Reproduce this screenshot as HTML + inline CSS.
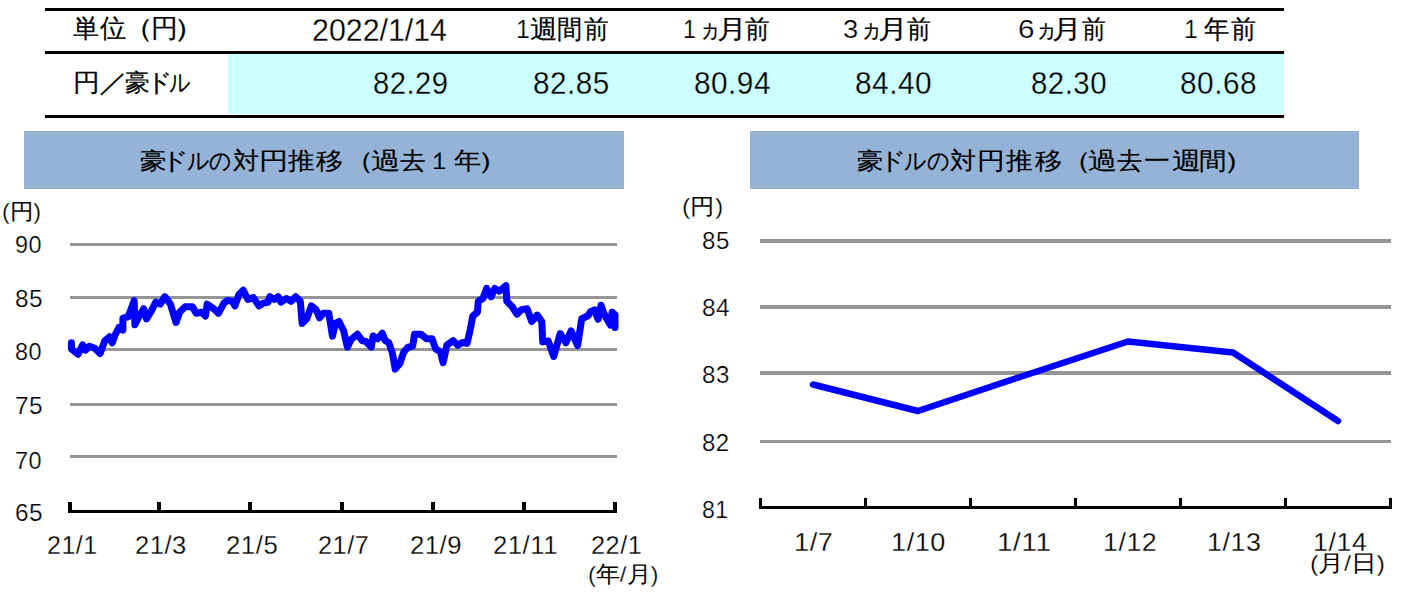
<!DOCTYPE html>
<html><head><meta charset="utf-8">
<style>
html,body{margin:0;padding:0;background:#fff;}
body{width:1404px;height:598px;position:relative;overflow:hidden;font-family:"Liberation Sans",sans-serif;color:#000;}
.r{position:absolute;}
.t{position:absolute;white-space:nowrap;line-height:1;transform-origin:0 0;}
.tr{text-align:right;}
.cj{-webkit-text-stroke:0.2px #000;}
.th{-webkit-text-stroke:0.25px #fff;}
.cj .a{-webkit-text-stroke:0.25px #fff;}
.un.cj{-webkit-text-stroke:0;}
.thv{-webkit-text-stroke:0.25px #CCFFFF;}
.tb{font-size:28px;}
.ax{font-size:24px;}
.ti{font-size:27px;}
.un{font-size:21px;}
</style></head><body>
<!-- table -->
<div class="r" style="left:228px;top:54px;width:1056px;height:60px;background:#CCFFFF"></div>
<div class="r" style="left:45px;top:8px;width:1239px;height:3px;background:#000"></div>
<div class="r" style="left:45px;top:51px;width:1239px;height:3px;background:#000"></div>
<div class="r" style="left:45px;top:115px;width:1239px;height:3px;background:#000"></div>



<!-- title boxes -->
<div class="r" style="left:24px;top:131px;width:600px;height:58px;background:#95B3D7"></div>
<div class="r" style="left:750px;top:131px;width:609px;height:58px;background:#95B3D7"></div>

<svg class="r" style="left:0;top:0" width="1404" height="598" viewBox="0 0 1404 598">
<g fill="#969696">
<rect x="70" y="243" width="547" height="3"/>
<rect x="70" y="296" width="547" height="3"/>
<rect x="70" y="348" width="547" height="3"/>
<rect x="70" y="403" width="547" height="3"/>
<rect x="70" y="455" width="547" height="3"/>
<rect x="760" y="239" width="631" height="4"/>
<rect x="760" y="305" width="631" height="4"/>
<rect x="760" y="371" width="631" height="4"/>
<rect x="760" y="440" width="631" height="3"/>
</g>
<g fill="#000">
<rect x="68" y="510" width="549" height="3"/>
<rect x="68" y="502" width="4" height="10"/>
<rect x="157" y="502" width="4" height="10"/>
<rect x="248" y="502" width="4" height="10"/>
<rect x="340" y="502" width="4" height="10"/>
<rect x="431" y="502" width="4" height="10"/>
<rect x="522" y="502" width="4" height="10"/>
<rect x="613" y="502" width="4" height="10"/>
<rect x="759" y="506" width="633" height="3"/>
<rect x="759" y="498" width="3" height="10"/>
<rect x="864" y="498" width="3" height="10"/>
<rect x="969" y="498" width="3" height="10"/>
<rect x="1074" y="498" width="3" height="10"/>
<rect x="1179" y="498" width="3" height="10"/>
<rect x="1284" y="498" width="3" height="10"/>
<rect x="1389" y="498" width="3" height="10"/>
</g>
<polyline points="71.4,342.8 71.4,348.9 78.1,354.2 82.7,344.8 85.4,350.2 89.4,346.2 94.8,348.2 100.1,353.5 104.8,340.8 109.5,336.8 112.2,342.8 114.8,335.5 118.9,327.5 122.9,330.1 122.9,318.1 128.2,316.8 134.2,300.7 134.9,324.8 138.9,316.8 143.7,308.7 146.5,318.8 151.1,311.4 155.7,302.2 160.3,304.1 164.9,296.7 170.4,304.1 176.0,322.5 179.6,312.3 185.2,306.8 192.5,306.8 196.2,313.3 201.7,312.3 205.4,316.0 207.2,304.1 211.0,306.8 214.7,309.6 218.4,313.3 223.9,303.1 227.6,300.4 232.2,301.3 235.0,305.9 238.7,294.8 243.3,290.2 247.9,299.4 253.4,297.6 258.9,305.9 263.5,303.1 268.1,302.2 269.9,296.7 274.5,299.4 278.2,296.7 281.0,302.2 286.5,298.5 291.1,301.3 295.7,296.7 300.3,301.3 302.2,323.4 306.8,318.8 311.4,305.9 316.0,309.6 319.6,317.9 323.3,313.3 328.8,313.3 332.5,336.3 335.3,323.4 339.0,321.5 343.6,330.7 347.4,347.1 351.0,339.7 357.5,334.2 362.1,340.6 365.8,341.5 371.3,347.1 373.1,336.0 377.7,338.8 382.3,333.3 385.1,340.6 388.8,342.5 392.5,353.5 395.2,369.1 399.8,363.6 403.5,352.6 408.1,347.1 412.7,346.1 414.5,334.2 421.0,334.2 426.5,338.8 432.0,338.8 435.7,348.9 440.3,351.7 443.1,362.7 446.8,345.2 453.2,340.6 457.8,345.2 462.4,342.5 467.0,343.4 470.0,330.7 472.8,316.0 477.4,312.3 478.3,301.3 482.9,298.5 486.6,288.4 491.2,296.7 494.8,288.4 499.4,291.2 505.9,285.6 506.8,301.3 512.3,306.8 516.9,314.2 521.5,309.6 527.1,308.7 531.7,321.5 537.2,315.1 541.8,321.5 542.7,341.8 548.2,340.9 553.7,356.5 560.2,333.5 565.9,342.7 571.1,331.0 577.6,345.6 581.7,318.7 588.1,315.8 590.4,311.7 594.5,309.9 598.1,319.3 601.0,305.2 603.3,312.2 606.3,318.1 610.4,325.1 612.1,312.2 615.0,314.6 615.0,327.5" fill="none" stroke="#0000FF" stroke-width="7" stroke-linejoin="round" stroke-linecap="round"/>
<polyline points="813.0,384.5 918.0,411.0 1023.0,376.0 1128.0,341.5 1233.0,352.5 1338.0,421.0" fill="none" stroke="#0000FF" stroke-width="6.5" stroke-linejoin="round" stroke-linecap="round"/>
</svg>

<!-- left chart labels -->

<!-- right chart labels -->
<div class="t cj" id="h0_0" style="left:73.08px;top:16.27px;font-size:28px;transform:scale(0.9231,0.9185);">単</div>
<div class="t cj" id="h0_1" style="left:99.61px;top:16.27px;font-size:28px;transform:scale(0.9259,0.9185);">位</div>
<div class="t cj" id="h0_2" style="left:122.05px;top:16.27px;font-size:28px;transform:scale(1.1167,0.9185);">（</div>
<div class="t cj" id="h0_3" style="left:150.74px;top:16.27px;font-size:28px;transform:scale(0.9500,0.9185);">円</div>
<div class="t cj" id="h0_4" style="left:173.32px;top:16.27px;font-size:28px;transform:scale(1.2000,0.9185);">）</div>
<div class="t th" id="h1" style="left:311.78px;top:14.93px;font-size:30px;transform:scale(1.0115,1.0227);">2022/1/14</div>
<div class="t th" id="h2_0" style="left:515.71px;top:17.00px;font-size:28px;transform:scale(0.8909,0.9185);">1</div>
<div class="t cj" id="h2_1" style="left:530.44px;top:17.00px;font-size:28px;transform:scale(0.9720,0.9185);">週</div>
<div class="t cj" id="h2_2" style="left:557.23px;top:17.00px;font-size:28px;transform:scale(0.8875,0.9185);">間</div>
<div class="t cj" id="h2_3" style="left:584.00px;top:17.00px;font-size:28px;transform:scale(0.8741,0.9185);">前</div>
<div class="t th" id="h3_0" style="left:682.60px;top:17.00px;font-size:28px;transform:scale(0.8333,0.9185);">1</div>
<div class="t cj" id="h3_1" style="left:699.30px;top:17.00px;font-size:28px;transform:scale(0.7765,0.9185);">ヵ</div>
<div class="t cj" id="h3_2" style="left:717.31px;top:17.00px;font-size:28px;transform:scale(1.0500,0.9185);">月</div>
<div class="t cj" id="h3_3" style="left:745.37px;top:17.00px;font-size:28px;transform:scale(0.8704,0.9185);">前</div>
<div class="t th" id="h4_0" style="left:843.43px;top:17.00px;font-size:28px;transform:scale(0.9769,0.9185);">3</div>
<div class="t cj" id="h4_1" style="left:860.13px;top:17.00px;font-size:28px;transform:scale(0.7941,0.9185);">ヵ</div>
<div class="t cj" id="h4_2" style="left:878.31px;top:17.00px;font-size:28px;transform:scale(1.0500,0.9185);">月</div>
<div class="t cj" id="h4_3" style="left:907.37px;top:17.00px;font-size:28px;transform:scale(0.8444,0.9185);">前</div>
<div class="t th" id="h5_0" style="left:1017.50px;top:17.00px;font-size:28px;transform:scale(1.0583,0.9185);">6</div>
<div class="t cj" id="h5_1" style="left:1035.21px;top:17.00px;font-size:28px;transform:scale(0.7941,0.9185);">ヵ</div>
<div class="t cj" id="h5_2" style="left:1052.49px;top:17.00px;font-size:28px;transform:scale(1.0500,0.9185);">月</div>
<div class="t cj" id="h5_3" style="left:1081.63px;top:17.00px;font-size:28px;transform:scale(0.8444,0.9185);">前</div>
<div class="t th" id="h6_0" style="left:1184.05px;top:17.00px;font-size:28px;transform:scale(0.8833,0.9185);">1</div>
<div class="t cj" id="h6_1" style="left:1203.72px;top:17.00px;font-size:28px;transform:scale(0.9000,0.9185);">年</div>
<div class="t cj" id="h6_2" style="left:1230.62px;top:17.00px;font-size:28px;transform:scale(0.8889,0.9185);">前</div>
<div class="t cj" id="v0_0" style="left:73.15px;top:71.00px;font-size:28px;transform:scale(0.9500,0.8857);">円</div>
<div class="t cj" id="v0_1" style="left:98.94px;top:71.00px;font-size:28px;transform:scale(1.0318,0.8857);">／</div>
<div class="t cj" id="v0_2" style="left:125.19px;top:71.00px;font-size:28px;transform:scale(0.8731,0.8857);">豪</div>
<div class="t cj" id="v0_3" style="left:145.94px;top:71.00px;font-size:28px;transform:scale(0.9286,0.8857);">ド</div>
<div class="t cj" id="v0_4" style="left:168.62px;top:71.00px;font-size:28px;transform:scale(0.7500,0.8857);">ル</div>
<div class="t thv" id="v1" style="left:373.24px;top:67.75px;font-size:30px;letter-spacing:0.5px;transform:scale(0.9716,1.0500);">82.29</div>
<div class="t thv" id="v2" style="left:533.02px;top:67.75px;font-size:30px;letter-spacing:0.5px;transform:scale(0.9905,1.0500);">82.85</div>
<div class="t thv" id="v3" style="left:694.02px;top:67.75px;font-size:30px;letter-spacing:0.5px;transform:scale(0.9919,1.0500);">80.94</div>
<div class="t thv" id="v4" style="left:855.01px;top:67.75px;font-size:30px;letter-spacing:0.5px;transform:scale(0.9932,1.0500);">84.40</div>
<div class="t thv" id="v5" style="left:1031.04px;top:67.75px;font-size:30px;letter-spacing:0.5px;transform:scale(0.9797,1.0500);">82.30</div>
<div class="t thv" id="v6" style="left:1180.01px;top:67.75px;font-size:30px;letter-spacing:0.5px;transform:scale(0.9932,1.0500);">80.68</div>
<div class="t cj" id="t1_0" style="left:139.61px;top:148.95px;font-size:27px;transform:scale(0.9840,0.8929);">豪</div>
<div class="t cj" id="t1_1" style="left:161.25px;top:148.95px;font-size:27px;transform:scale(1.0143,0.8929);">ド</div>
<div class="t cj" id="t1_2" style="left:186.73px;top:148.95px;font-size:27px;transform:scale(0.8115,0.8929);">ル</div>
<div class="t cj" id="t1_3" style="left:209.28px;top:148.95px;font-size:27px;transform:scale(0.8120,0.8929);">の</div>
<div class="t cj" id="t1_4" style="left:232.61px;top:148.95px;font-size:27px;transform:scale(0.9731,0.8929);">対</div>
<div class="t cj" id="t1_5" style="left:258.74px;top:148.95px;font-size:27px;transform:scale(1.0857,0.8929);">円</div>
<div class="t cj" id="t1_6" style="left:288.40px;top:148.95px;font-size:27px;transform:scale(0.9885,0.8929);">推</div>
<div class="t cj" id="t1_7" style="left:316.20px;top:148.95px;font-size:27px;transform:scale(1.0115,0.8929);">移</div>
<div class="t cj" id="t1_8" style="left:343.86px;top:148.95px;font-size:27px;transform:scale(1.1167,0.8929);">（</div>
<div class="t cj" id="t1_9" style="left:370.53px;top:148.95px;font-size:27px;transform:scale(1.0958,0.8929);">過</div>
<div class="t cj" id="t1_10" style="left:400.00px;top:148.95px;font-size:27px;transform:scale(0.9577,0.8929);">去</div>
<div class="t cj" id="t1_11" style="left:427.65px;top:148.95px;font-size:27px;transform:scale(0.8538,0.8929);">１</div>
<div class="t cj" id="t1_12" style="left:453.59px;top:148.95px;font-size:27px;transform:scale(1.0120,0.8929);">年</div>
<div class="t cj" id="t1_13" style="left:476.77px;top:148.95px;font-size:27px;transform:scale(1.2500,0.8929);">）</div>
<div class="t cj" id="t2_0" style="left:856.63px;top:148.95px;font-size:27px;transform:scale(0.9720,0.8929);">豪</div>
<div class="t cj" id="t2_1" style="left:879.08px;top:148.95px;font-size:27px;transform:scale(0.9929,0.8929);">ド</div>
<div class="t cj" id="t2_2" style="left:903.83px;top:148.95px;font-size:27px;transform:scale(0.8115,0.8929);">ル</div>
<div class="t cj" id="t2_3" style="left:927.18px;top:148.95px;font-size:27px;transform:scale(0.8240,0.8929);">の</div>
<div class="t cj" id="t2_4" style="left:950.41px;top:148.95px;font-size:27px;transform:scale(0.9731,0.8929);">対</div>
<div class="t cj" id="t2_5" style="left:977.29px;top:148.95px;font-size:27px;transform:scale(1.0381,0.8929);">円</div>
<div class="t cj" id="t2_6" style="left:1006.40px;top:148.95px;font-size:27px;transform:scale(0.9885,0.8929);">推</div>
<div class="t cj" id="t2_7" style="left:1034.60px;top:148.95px;font-size:27px;transform:scale(1.0115,0.8929);">移</div>
<div class="t cj" id="t2_8" style="left:1061.16px;top:148.95px;font-size:27px;transform:scale(1.1333,0.8929);">（</div>
<div class="t cj" id="t2_9" style="left:1087.88px;top:148.95px;font-size:27px;transform:scale(1.0833,0.8929);">過</div>
<div class="t cj" id="t2_10" style="left:1117.22px;top:148.95px;font-size:27px;transform:scale(0.9462,0.8929);">去</div>
<div class="t cj" id="t2_11" style="left:1144.04px;top:148.95px;font-size:27px;transform:scale(0.9600,0.8929);">一</div>
<div class="t cj" id="t2_12" style="left:1171.54px;top:148.95px;font-size:27px;transform:scale(1.0792,0.8929);">週</div>
<div class="t cj" id="t2_13" style="left:1198.95px;top:148.95px;font-size:27px;transform:scale(1.0261,0.8929);">間</div>
<div class="t cj" id="t2_14" style="left:1222.84px;top:148.95px;font-size:27px;transform:scale(1.2333,0.8929);">）</div>
<div class="t cj un" id="lu" style="left:1.98px;top:199.92px;font-size:21px;transform:scale(1.1156,1.0400);"><span class="a">(</span>円<span class="a">)</span></div>
<div class="t th" id="l90" style="left:15.04px;top:233.04px;font-size:24px;letter-spacing:0.5px;transform:scale(0.9760,0.9882);">90</div>
<div class="t th" id="l85" style="left:14.97px;top:287.04px;font-size:24px;letter-spacing:0.5px;transform:scale(1.0167,0.9882);">85</div>
<div class="t th" id="l80" style="left:15.04px;top:340.07px;font-size:24px;letter-spacing:0.5px;transform:scale(0.9760,0.9765);">80</div>
<div class="t th" id="l75" style="left:14.97px;top:394.07px;font-size:24px;letter-spacing:0.5px;transform:scale(1.0167,0.9765);">75</div>
<div class="t th" id="l70" style="left:15.04px;top:448.86px;font-size:24px;letter-spacing:0.5px;transform:scale(0.9760,0.9765);">70</div>
<div class="t th" id="l65" style="left:14.97px;top:501.07px;font-size:24px;letter-spacing:0.5px;transform:scale(1.0167,0.9765);">65</div>
<div class="t th" id="x1" style="left:46.94px;top:531.69px;font-size:24px;letter-spacing:0.5px;transform:scale(1.0422,1.0882);">21/1</div>
<div class="t th" id="x2" style="left:134.94px;top:531.69px;font-size:24px;letter-spacing:0.5px;transform:scale(1.0630,1.0882);">21/3</div>
<div class="t th" id="x3" style="left:225.68px;top:531.69px;font-size:24px;letter-spacing:0.5px;transform:scale(1.0733,1.0882);">21/5</div>
<div class="t th" id="x4" style="left:317.54px;top:531.69px;font-size:24px;letter-spacing:0.5px;transform:scale(1.0522,1.0882);">21/7</div>
<div class="t th" id="x5" style="left:409.52px;top:531.69px;font-size:24px;letter-spacing:0.5px;transform:scale(1.0696,1.0882);">21/9</div>
<div class="t th" id="x6" style="left:493.28px;top:531.69px;font-size:24px;letter-spacing:0.5px;transform:scale(1.0684,1.0882);">21/11</div>
<div class="t th" id="x7" style="left:591.13px;top:531.69px;font-size:24px;letter-spacing:0.5px;transform:scale(1.0522,1.0882);">22/1</div>
<div class="t cj un" id="xu" style="left:587.72px;top:562.93px;font-size:21px;transform:scale(1.1379,1.0714);"><span class="a">(</span>年<span class="a">/</span>月<span class="a">)</span></div>
<div class="t cj un" id="ru" style="left:681.86px;top:195.04px;font-size:21px;transform:scale(1.1812,1.0650);"><span class="a">(</span>円<span class="a">)</span></div>
<div class="t th" id="r85" style="left:702.00px;top:229.04px;font-size:24px;letter-spacing:0.5px;transform:scale(1.0040,0.9882);">85</div>
<div class="t th" id="r84" style="left:701.98px;top:296.07px;font-size:24px;letter-spacing:0.5px;transform:scale(1.0160,0.9765);">84</div>
<div class="t th" id="r83" style="left:702.00px;top:363.69px;font-size:24px;letter-spacing:0.5px;transform:scale(1.0040,0.9706);">83</div>
<div class="t th" id="r82" style="left:702.00px;top:431.04px;font-size:24px;letter-spacing:0.5px;transform:scale(1.0000,0.9882);">82</div>
<div class="t th" id="r81" style="left:702.04px;top:498.07px;font-size:24px;letter-spacing:0.5px;transform:scale(0.9640,0.9765);">81</div>
<div class="t th" id="y1" style="left:794.31px;top:528.69px;font-size:24px;letter-spacing:0.5px;transform:scale(1.1323,1.0882);">1/7</div>
<div class="t th" id="y2" style="left:891.32px;top:528.69px;font-size:24px;letter-spacing:0.5px;transform:scale(1.1289,1.0882);">1/10</div>
<div class="t th" id="y3" style="left:996.67px;top:528.69px;font-size:24px;letter-spacing:0.5px;transform:scale(1.1628,1.0882);">1/11</div>
<div class="t th" id="y4" style="left:1102.56px;top:528.69px;font-size:24px;letter-spacing:0.5px;transform:scale(1.1133,1.0882);">1/12</div>
<div class="t th" id="y5" style="left:1207.49px;top:528.69px;font-size:24px;letter-spacing:0.5px;transform:scale(1.1182,1.0882);">1/13</div>
<div class="t th" id="y6" style="left:1312.71px;top:528.69px;font-size:24px;letter-spacing:0.5px;transform:scale(1.1156,1.0882);">1/14</div>
<div class="t cj un" id="yu" style="left:1309.58px;top:552.01px;font-size:21px;transform:scale(1.2121,1.0800);"><span class="a">(</span>月<span class="a">/</span>日<span class="a">)</span></div>
</body></html>
